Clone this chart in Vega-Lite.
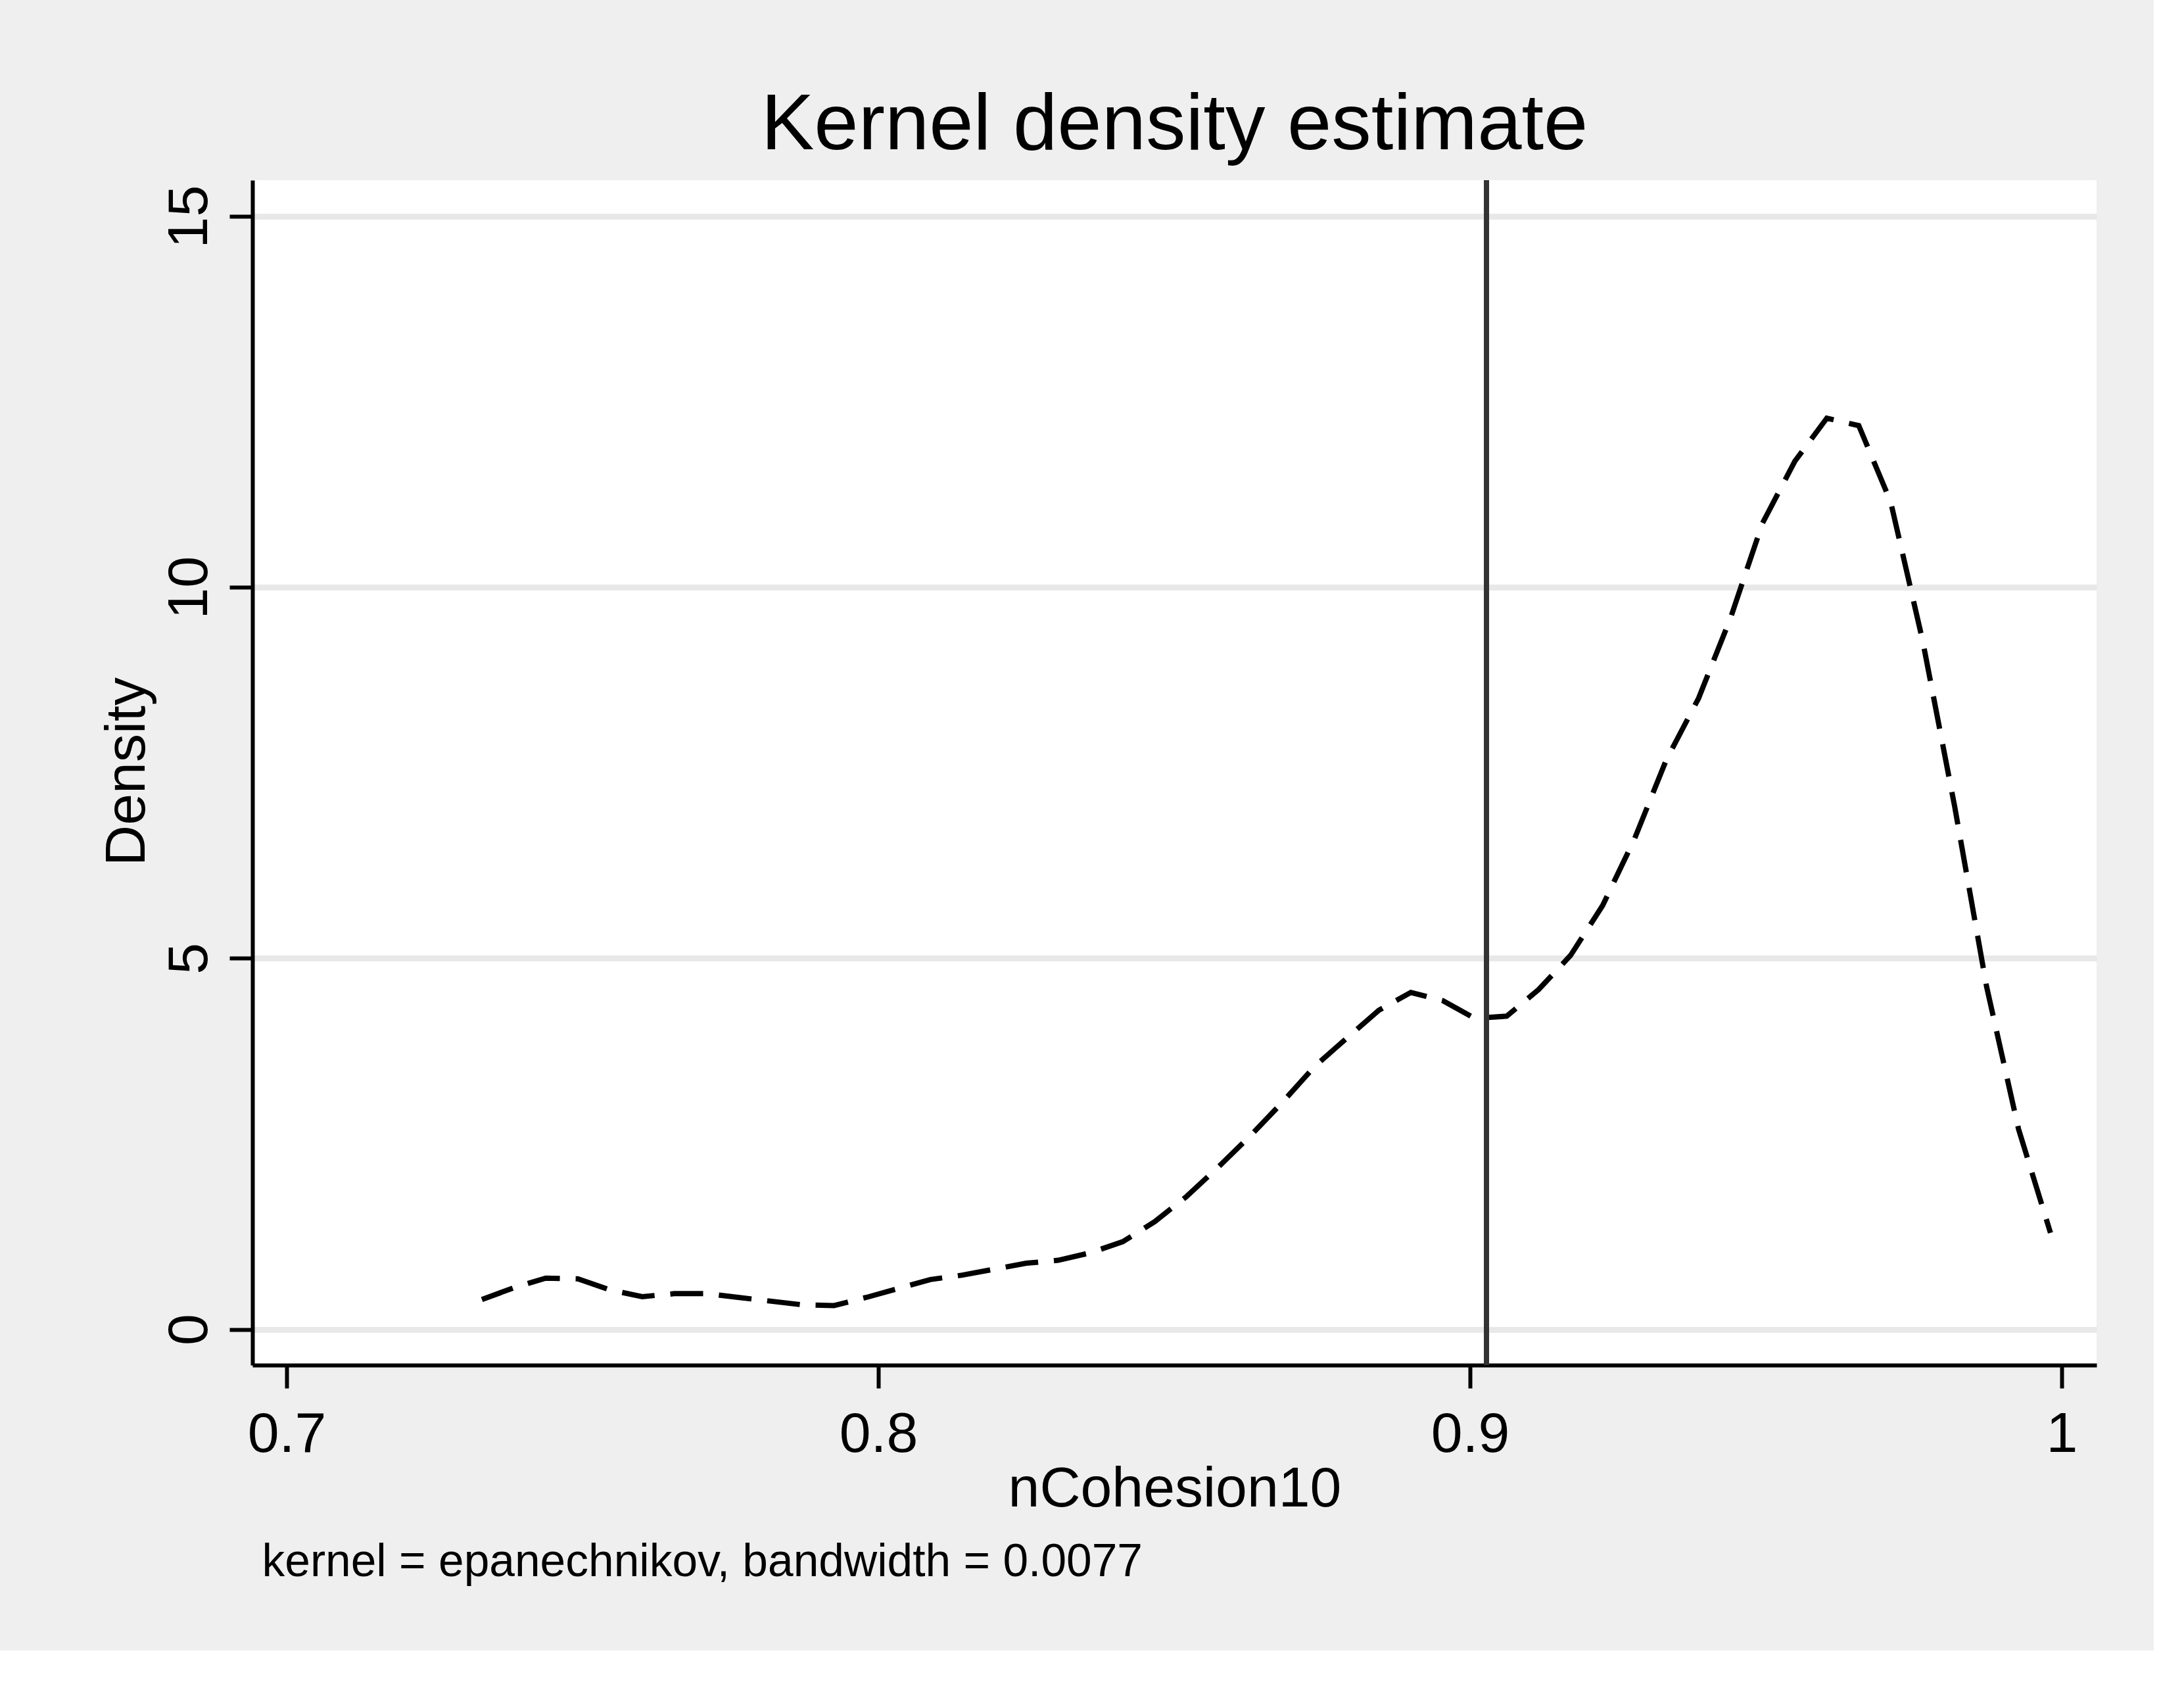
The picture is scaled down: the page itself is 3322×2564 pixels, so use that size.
{
  "$schema": "https://vega.github.io/schema/vega-lite/v6.json",
  "width": 2805,
  "height": 1802,
  "autosize": {"type": "none"},
  "padding": {"left": 384, "top": 274, "right": 87, "bottom": 434},
  "background": "#efefef",
  "title": {
    "text": "Kernel density estimate",
    "anchor": "middle",
    "frame": "group",
    "orient": "top",
    "baseline": "alphabetic",
    "offset": 40,
    "dy": 118,
    "fontSize": 121,
    "font": "Liberation Sans",
    "fontWeight": "normal",
    "color": "#000000"
  },
  "config": {
    "view": {"fill": "#ffffff", "stroke": null},
    "font": "Liberation Sans"
  },
  "datasets": {
    "kde": [
      {"x": 0.7330, "density": 0.40},
      {"x": 0.7384, "density": 0.56},
      {"x": 0.7438, "density": 0.69},
      {"x": 0.7492, "density": 0.68},
      {"x": 0.7547, "density": 0.53},
      {"x": 0.7601, "density": 0.44},
      {"x": 0.7655, "density": 0.48},
      {"x": 0.7709, "density": 0.48},
      {"x": 0.7763, "density": 0.43},
      {"x": 0.7817, "density": 0.38},
      {"x": 0.7871, "density": 0.33},
      {"x": 0.7925, "density": 0.32},
      {"x": 0.7980, "density": 0.43},
      {"x": 0.8034, "density": 0.55},
      {"x": 0.8088, "density": 0.67},
      {"x": 0.8142, "density": 0.73},
      {"x": 0.8196, "density": 0.81},
      {"x": 0.8250, "density": 0.89},
      {"x": 0.8304, "density": 0.93},
      {"x": 0.8358, "density": 1.03},
      {"x": 0.8413, "density": 1.18},
      {"x": 0.8467, "density": 1.45},
      {"x": 0.8521, "density": 1.79},
      {"x": 0.8575, "density": 2.19},
      {"x": 0.8629, "density": 2.61},
      {"x": 0.8683, "density": 3.06},
      {"x": 0.8737, "density": 3.54},
      {"x": 0.8791, "density": 3.92},
      {"x": 0.8846, "density": 4.30},
      {"x": 0.8900, "density": 4.54},
      {"x": 0.8954, "density": 4.43},
      {"x": 0.9008, "density": 4.19},
      {"x": 0.9062, "density": 4.22},
      {"x": 0.9116, "density": 4.58},
      {"x": 0.9170, "density": 5.04},
      {"x": 0.9224, "density": 5.71},
      {"x": 0.9278, "density": 6.61},
      {"x": 0.9332, "density": 7.68},
      {"x": 0.9386, "density": 8.50},
      {"x": 0.9440, "density": 9.58},
      {"x": 0.9494, "density": 10.86},
      {"x": 0.9549, "density": 11.70},
      {"x": 0.9603, "density": 12.28},
      {"x": 0.9657, "density": 12.18},
      {"x": 0.9711, "density": 11.15},
      {"x": 0.9765, "density": 9.28},
      {"x": 0.9819, "density": 7.05},
      {"x": 0.9873, "density": 4.62},
      {"x": 0.9927, "density": 2.70},
      {"x": 0.9981, "density": 1.30}
    ],
    "mean": [{"x": 0.90278}]
  },
  "layer": [
    {
      "data": {"name": "kde"},
      "mark": {"type": "line", "stroke": "#000000", "strokeWidth": 8, "strokeDash": [50, 24], "interpolate": "linear"},
      "encoding": {
        "x": {
          "field": "x",
          "type": "quantitative",
          "scale": {"domain": [0.69422, 1.00589], "nice": false, "zero": false},
          "axis": {
            "orient": "bottom",
            "values": [0.7, 0.8, 0.9, 1],
            "format": "~g",
            "grid": false,
            "domainColor": "#000000",
            "domainWidth": 6,
            "tickColor": "#000000",
            "tickWidth": 6,
            "tickSize": 35,
            "labelFontSize": 86,
            "labelFont": "Liberation Sans",
            "labelColor": "#000000",
            "labelPadding": 28,
            "labelBaseline": "top",
            "labelAlign": "center",
            "labelFlush": false,
            "labelOverlap": false,
            "title": "nCohesion10",
            "titleFont": "Liberation Sans",
            "titleFontSize": 86,
            "titleFontWeight": "normal",
            "titleColor": "#000000",
            "titleBaseline": "alphabetic",
            "titleAnchor": "middle",
            "titleY": 214
          }
        },
        "y": {
          "field": "density",
          "type": "quantitative",
          "scale": {"domain": [-0.483, 15.488], "nice": false, "zero": false},
          "axis": {
            "values": [0, 5, 10, 15],
            "title": "Density",
            "grid": true,
            "gridColor": "#e8e8e8",
            "gridWidth": 9,
            "domainColor": "#000000",
            "domainWidth": 6,
            "tickColor": "#000000",
            "tickWidth": 6,
            "tickSize": 35,
            "labelAngle": -90,
            "labelAlign": "center",
            "labelBaseline": "alphabetic",
            "labelPadding": 35,
            "labelFontSize": 86,
            "labelFont": "Liberation Sans",
            "labelColor": "#000000",
            "labelFlush": false,
            "labelOverlap": false,
            "titleFont": "Liberation Sans",
            "titleFontSize": 86,
            "titleFontWeight": "normal",
            "titleColor": "#000000",
            "titleAngle": -90,
            "titleAlign": "center",
            "titleBaseline": "alphabetic",
            "titleX": -165,
            "titleY": 899
          }
        }
      }
    },
    {
      "data": {"name": "mean"},
      "mark": {"type": "rule", "stroke": "#333333", "strokeWidth": 8},
      "encoding": {
        "x": {
          "field": "x",
          "type": "quantitative",
          "axis": {
            "orient": "bottom",
            "labels": false,
            "ticks": false,
            "domain": false,
            "grid": false,
            "title": "kernel = epanechnikov, bandwidth = 0.0077",
            "titleFont": "Liberation Sans",
            "titleFontSize": 69.5,
            "titleFontWeight": "normal",
            "titleColor": "#000000",
            "titleAlign": "left",
            "titleAnchor": "start",
            "titleBaseline": "alphabetic",
            "titleX": 14,
            "titleY": 320
          }
        }
      }
    }
  ],
  "resolve": {"axis": {"x": "independent"}}
}
